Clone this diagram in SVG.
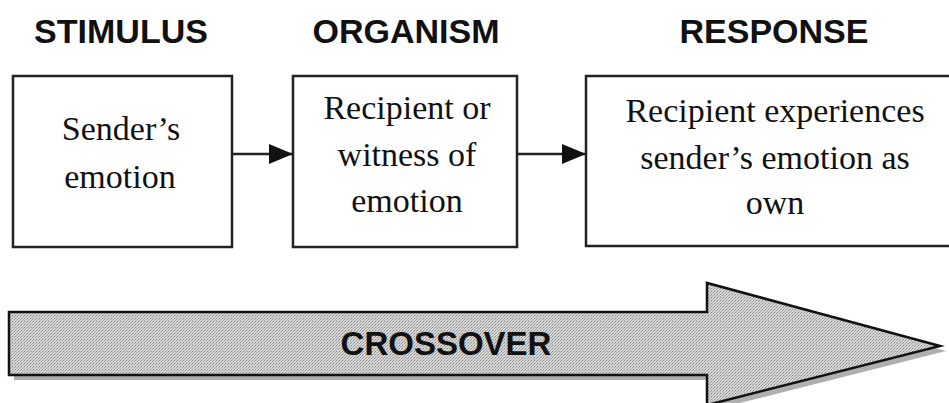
<svg xmlns="http://www.w3.org/2000/svg" width="949" height="403" viewBox="0 0 949 403">
<defs>
<style>
.head{font-family:"Liberation Sans",Arial,sans-serif;font-weight:bold;font-size:34px;fill:#111;text-anchor:middle}
.body{font-family:"Liberation Serif","Times New Roman",serif;font-size:34px;fill:#111;text-anchor:middle}
.box{fill:#fff;stroke:#222;stroke-width:2.5}
.conn{stroke:#222;stroke-width:2.5;fill:none}
</style>
<marker id="ah" markerWidth="24" markerHeight="20" refX="24" refY="10" orient="auto" markerUnits="userSpaceOnUse" viewBox="0 0 24 20">
<path d="M0,0 L24,10 L0,20 Z" fill="#111"/>
</marker>
<pattern id="stip" width="3" height="3" patternUnits="userSpaceOnUse">
<rect width="3" height="3" fill="#d6d6d6"/>
<rect x="0" y="0" width="1" height="1" fill="#8a8a8a"/>
<rect x="2" y="1" width="1" height="1" fill="#a0a0a0"/>
<rect x="1" y="2" width="1" height="1" fill="#b0b0b0"/>
</pattern>
</defs>
<rect width="949" height="403" fill="#fff"/>
<g id="headings">
<text class="head" x="121" y="43">STIMULUS</text>
<text class="head" x="406" y="43">ORGANISM</text>
<text class="head" x="774" y="43">RESPONSE</text>
</g>
<g id="stimulus">
<rect class="box" x="13" y="76" width="219" height="171"/>
<text class="body" x="121" y="140">Sender’s</text>
<text class="body" x="120" y="188">emotion</text>
</g>
<g id="organism">
<rect class="box" x="293" y="76" width="224" height="171"/>
<text class="body" x="407" y="119">Recipient or</text>
<text class="body" x="407" y="166">witness of</text>
<text class="body" x="407" y="212">emotion</text>
</g>
<g id="response">
<rect class="box" x="586" y="76" width="380" height="170"/>
<text class="body" x="775" y="122">Recipient experiences</text>
<text class="body" x="775" y="169">sender’s emotion as</text>
<text class="body" x="775" y="214">own</text>
</g>
<g id="connectors">
<line class="conn" x1="232" y1="154" x2="293" y2="154" marker-end="url(#ah)"/>
<line class="conn" x1="517" y1="154" x2="586" y2="154" marker-end="url(#ah)"/>
</g>
<g id="crossover">
<path d="M14,317 H712 V288 L946,351 L712,410 V380 H14 Z" fill="#7a7a7a" opacity="0.6"/>
<path d="M9,312 H707 V283 L940,346 L707,405 V375 H9 Z" fill="url(#stip)" stroke="#111" stroke-width="2.5" stroke-linejoin="miter"/>
<text class="head" x="446" y="355" style="font-size:33px">CROSSOVER</text>
</g>
</svg>
